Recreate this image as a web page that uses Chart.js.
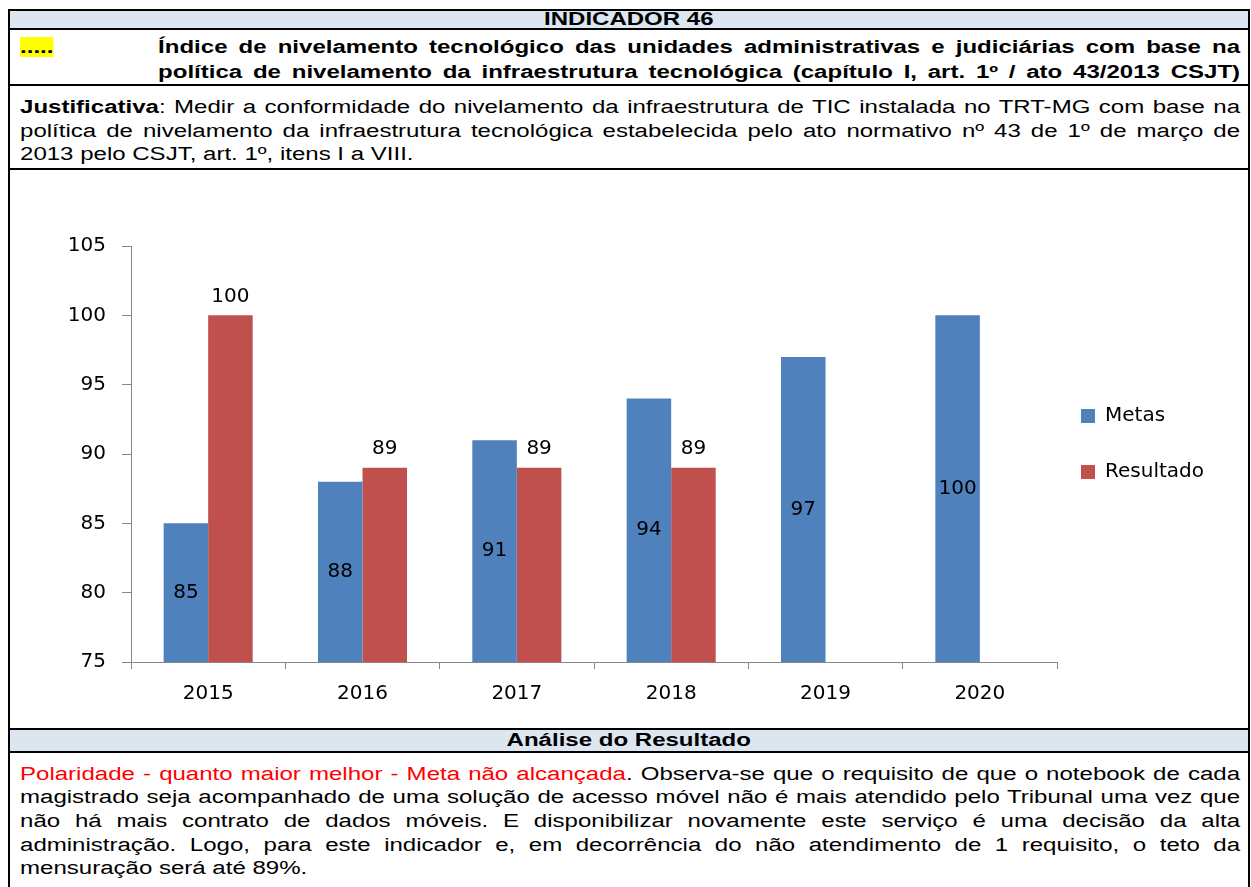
<!DOCTYPE html>
<html lang="pt">
<head>
<meta charset="utf-8">
<title>Indicador 46</title>
<script src="https://cdn.jsdelivr.net/npm/chart.js@4.4.0/dist/chart.umd.min.js"></script>
<style>
  body { margin: 0; width: 1251px; height: 887px; overflow: hidden; background: #fff; position: relative;
         font-family: "Liberation Sans", Arial, sans-serif; }
  .hline { position: absolute; left: 8px; width: 1242px; height: 2px; background: #000; }
  .vline { position: absolute; top: 9px; width: 2px; height: 880px; background: #000; }
  .band { position: absolute; left: 10px; width: 1238px; background: #dce6f1; }
  /* the document text is stretched horizontally, so draw it narrow and scale it */
  #txt { position: absolute; left: 0; top: 0; width: 937px; height: 887px; transform: scaleX(1.335);
         transform-origin: 0 0; font-size: 18px; color: #000; }
  #txt div { position: absolute; white-space: nowrap; line-height: 20px; }
  .j { text-align: justify; text-align-last: justify; }
  .c { text-align: center; font-weight: bold; }
  .hl { background: #ffff00; font-weight: bold; }
  .red { color: #ff0000; }
  #chartBox { position: absolute; left: 10px; top: 170px; width: 1237px; height: 556px; }
</style>
</head>
<body>
<div class="band" style="top:11px;height:17px"></div>
<div class="band" style="top:730px;height:21px"></div>

<div class="hline" style="top:9px"></div>
<div class="hline" style="top:28px"></div>
<div class="hline" style="top:84px"></div>
<div class="hline" style="top:168px"></div>
<div class="hline" style="top:728px"></div>
<div class="hline" style="top:751px"></div>
<div class="vline" style="left:8px"></div>
<div class="vline" style="left:1248px"></div>

<div id="txt">
  <div class="c" style="left:7.5px;width:927px;top:9px">INDICADOR 46</div>

  <div style="left:15px;top:37px"><span class="hl">.....</span></div>
  <div class="j" style="left:118.4px;width:810.5px;top:37px;font-weight:bold">Índice de nivelamento tecnológico das unidades administrativas e judiciárias com base na</div>
  <div class="j" style="left:118.4px;width:810.5px;top:62px;font-weight:bold">política de nivelamento da infraestrutura tecnológica (capítulo I, art. 1º / ato 43/2013 CSJT)</div>

  <div class="j" style="left:15px;width:913.9px;top:97px"><b>Justificativa</b>: Medir a conformidade do nivelamento da infraestrutura de TIC instalada no TRT-MG com base na</div>
  <div class="j" style="left:15px;width:913.9px;top:121px">política de nivelamento da infraestrutura tecnológica estabelecida pelo ato normativo nº 43 de 1º de março de</div>
  <div style="left:15px;top:144px">2013 pelo CSJT, art. 1º, itens I a VIII.</div>

  <div class="c" style="left:7.5px;width:927px;top:730px">Análise do Resultado</div>

  <div class="j" style="left:15px;width:913.9px;top:764px"><span class="red">Polaridade - quanto maior melhor - Meta não alcançada</span>. Observa-se que o requisito de que o notebook de cada</div>
  <div class="j" style="left:15px;width:913.9px;top:787px">magistrado seja acompanhado de uma solução de acesso móvel não é mais atendido pelo Tribunal uma vez que</div>
  <div class="j" style="left:15px;width:913.9px;top:811px">não há mais contrato de dados móveis. E disponibilizar novamente este serviço é uma decisão da alta</div>
  <div class="j" style="left:15px;width:913.9px;top:835px">administração. Logo, para este indicador e, em decorrência do não atendimento de 1 requisito, o teto da</div>
  <div style="left:15px;top:858px">mensuração será até 89%.</div>
</div>

<div id="chartBox"><canvas id="grafico" width="1237" height="556"></canvas></div>

<script>
const anos = ['2015', '2016', '2017', '2018', '2019', '2020'];
const metas = [85, 88, 91, 94, 97, 100];
const resultado = [100, 89, 89, 89, null, null];
const yMin = 75, yMax = 105, yStep = 5;

const chartFont = { family: 'DejaVu Sans', size: 20 };

// value labels: Metas in the middle of the bar, Resultado above it
const valueLabels = {
    id: 'valueLabels',
    afterDatasetsDraw(chart) {
        const ctx = chart.ctx;
        const bottom = chart.chartArea.bottom;
        ctx.save();
        ctx.font = '20px "DejaVu Sans"';
        ctx.fillStyle = '#000';
        ctx.textAlign = 'center';
        ctx.textBaseline = 'middle';
        chart.data.datasets.forEach((ds, i) => {
            chart.getDatasetMeta(i).data.forEach((bar, j) => {
                const v = ds.data[j];
                if (v == null) return;
                // base lies below the visible axis when min > 0, so clip it
                const base = Math.min(bar.base, bottom);
                const y = i === 0 ? (bar.y + base) / 2 : bar.y - 19;
                ctx.fillText(String(v), bar.x, y);
            });
        });
        ctx.restore();
    }
};

// move the legend a little up and left
const legendNudge = {
    id: 'legendNudge',
    afterLayout(chart) {
        const lg = chart.legend;
        lg.left -= 12; lg.right -= 12;
        lg.top -= 10; lg.bottom -= 10;
    }
};

const ctx = document.getElementById('grafico').getContext('2d');
new Chart(ctx, {
    type: 'bar',
    data: {
        labels: anos,
        datasets: [
            { label: 'Metas', data: metas, backgroundColor: '#4f81bd', borderWidth: 0,
              categoryPercentage: 0.577, barPercentage: 1 },
            { label: 'Resultado', data: resultado, backgroundColor: '#c0504d', borderWidth: 0,
              categoryPercentage: 0.577, barPercentage: 1 }
        ]
    },
    options: {
        responsive: false,
        animation: false,
        devicePixelRatio: 1,
        layout: { padding: { top: 76, left: 0, right: 21, bottom: 14 } },
        plugins: {
            legend: {
                position: 'right',
                fullSize: false,
                labels: { boxWidth: 14, boxHeight: 14, padding: 36, color: '#000',
                          font: { family: 'DejaVu Sans', size: 20 } }
            },
            tooltip: { enabled: false }
        },
        scales: {
            x: {
                grid: { offset: true, drawOnChartArea: false, tickLength: 7, color: '#868686' },
                border: { color: '#868686' },
                ticks: { color: '#000', padding: 13, font: chartFont },
                afterFit: s => { s.height = 50; }
            },
            y: {
                min: yMin, max: yMax,
                ticks: { stepSize: yStep, padding: 16, color: '#000', font: chartFont },
                grid: { drawOnChartArea: false, tickLength: 9, color: '#868686' },
                border: { color: '#868686' },
                afterFit: s => { s.width = 121; }
            }
        }
    },
    plugins: [valueLabels, legendNudge]
});
</script>
</body>
</html>
